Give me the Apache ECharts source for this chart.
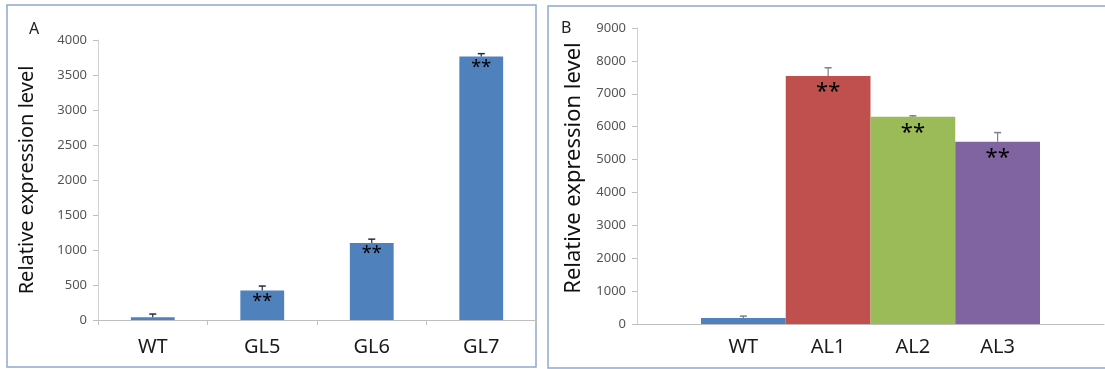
<!DOCTYPE html>
<html>
<head>
<meta charset="utf-8">
<script src="https://cdn.jsdelivr.net/npm/echarts@6/dist/echarts.min.js"></script>
<style>
  html, body { margin: 0; padding: 0; background: #fff; }
  #main { width: 1105px; height: 369px; }
</style>
</head>
<body>
<div id="main"></div>
<script>
// panel A data
var catsA = ['WT', 'GL5', 'GL6', 'GL7'];
var valuesA = [40, 420, 1100, 3765];
var errorsA = [45, 65, 55, 40];
var ticksA = [0, 500, 1000, 1500, 2000, 2500, 3000, 3500, 4000];

// panel B data
var catsB = ['WT', 'AL1', 'AL2', 'AL3'];
var valuesB = [180, 7540, 6300, 5540];
var errorsB = [60, 250, 30, 280];
var colorsB = ['#4F81BD', '#C0504D', '#9BBB59', '#8064A2'];
var ticksB = [0, 1000, 2000, 3000, 4000, 5000, 6000, 7000, 8000, 9000];

var marks = '**';
var yTitle = 'Relative expression level';
var fontFam = '"Noto Sans", "Open Sans", sans-serif';

// 오차 막대 (위쪽만)
function errorBar(color, cap) {
  return function(params, api) {
    var x = api.value(0);
    var top = api.coord([x, api.value(1) + api.value(2)]);
    var base = api.coord([x, api.value(1)]);
    return {
      type: 'group',
      children: [
        { type: 'line', shape: { x1: top[0], y1: base[1], x2: top[0], y2: top[1] }, style: { stroke: color, lineWidth: 1.2 } },
        { type: 'line', shape: { x1: top[0] - cap, y1: top[1], x2: top[0] + cap, y2: top[1] }, style: { stroke: color, lineWidth: 1.5 } }
      ]
    };
  };
}

// 숫자 그대로 (콤마 없음)
function plain(v) { return String(v); }

var errDataA = catsA.map(function(c, i) { return [i, valuesA[i], errorsA[i]]; });
var errDataB = catsB.map(function(c, i) { return [i, valuesB[i], errorsB[i]]; });

var chart = echarts.init(document.getElementById('main'));

var option = {
  animation: false,
  textStyle: { fontFamily: fontFam },
  title: [
    { text: 'A', left: 24, top: 16, textStyle: { fontSize: 16, fontWeight: 'normal', color: '#222' } },
    { text: 'B', left: 556, top: 15, textStyle: { fontSize: 16, fontWeight: 'normal', color: '#222' } }
  ],
  graphic: [
    { type: 'rect', shape: { x: 7, y: 5, width: 529, height: 362 }, style: { fill: 'none', stroke: '#8EA9D0', lineWidth: 1.5 }, silent: true },
    { type: 'rect', shape: { x: 548, y: 6, width: 570, height: 362 }, style: { fill: 'none', stroke: '#8EA9D0', lineWidth: 1.5 }, silent: true }
  ],
  grid: [
    { left: 98, right: 569, top: 40, bottom: 49 },
    { left: 701, right: 65, top: 28, bottom: 45 },
    { left: 637, right: 1, top: 28, bottom: 45 }
  ],
  xAxis: [
    {
      gridIndex: 0, type: 'category', data: catsA,
      axisLine: { lineStyle: { color: '#BFBFBF' } },
      axisTick: { show: true, length: 5, lineStyle: { color: '#BFBFBF' } },
      axisLabel: { fontSize: 20, color: '#1a1a1a', margin: 17 }
    },
    {
      gridIndex: 1, type: 'category', data: catsB,
      axisLine: { show: false }, axisTick: { show: false },
      axisLabel: { fontSize: 20, color: '#1a1a1a', margin: 13 }
    },
    {
      gridIndex: 2, type: 'category', data: [''],
      axisLine: { lineStyle: { color: '#BFBFBF' } },
      axisTick: { show: false }, axisLabel: { show: false }
    }
  ],
  yAxis: [
    {
      gridIndex: 0, type: 'value', min: ticksA[0], max: ticksA[ticksA.length - 1], interval: 500,
      name: yTitle, nameLocation: 'middle', nameRotate: 90, nameGap: 61,
      nameTextStyle: { fontSize: 20, color: '#111' },
      axisLine: { show: true, lineStyle: { color: '#D0D0D0' } },
      axisTick: { show: true, length: 5, lineStyle: { color: '#BFBFBF' } },
      axisLabel: { fontSize: 13, color: '#555', margin: 11, formatter: plain },
      splitLine: { show: false }
    },
    {
      gridIndex: 1, type: 'value', min: ticksB[0], max: ticksB[ticksB.length - 1], interval: 1000,
      offset: 64,
      name: yTitle, nameLocation: 'middle', nameRotate: 90, nameGap: 52,
      nameTextStyle: { fontSize: 22, color: '#111', padding: [0, 0, 0, 16] },
      axisLine: { show: true, lineStyle: { color: '#D0D0D0' } },
      axisTick: { show: true, length: 5, lineStyle: { color: '#BFBFBF' } },
      axisLabel: { fontSize: 13, color: '#555', margin: 11, formatter: plain },
      splitLine: { show: false }
    },
    { gridIndex: 2, type: 'value', min: 0, max: 9000, show: false }
  ],
  series: [
    {
      type: 'bar', xAxisIndex: 0, yAxisIndex: 0, data: valuesA, barWidth: '40%',
      itemStyle: { color: '#4F81BD' },
      label: {
        show: true, position: 'insideTop', distance: 2, fontSize: 18, color: '#000',
        formatter: function(p) { return p.dataIndex > 0 ? marks : ''; }
      }
    },
    {
      type: 'custom', xAxisIndex: 0, yAxisIndex: 0, data: errDataA,
      renderItem: errorBar('#1F2A44', 3.5), z: 5
    },
    {
      type: 'bar', xAxisIndex: 1, yAxisIndex: 1, barWidth: '100%',
      data: valuesB.map(function(v, i) { return { value: v, itemStyle: { color: colorsB[i] } }; }),
      label: {
        show: true, position: 'insideTop', distance: 5, fontSize: 22, color: '#000',
        formatter: function(p) { return p.dataIndex > 0 ? marks : ''; }
      }
    },
    {
      type: 'custom', xAxisIndex: 1, yAxisIndex: 1, data: errDataB,
      renderItem: errorBar('#7F7F7F', 3.5), z: 5
    }
  ]
};

chart.setOption(option);
</script>
</body>
</html>
